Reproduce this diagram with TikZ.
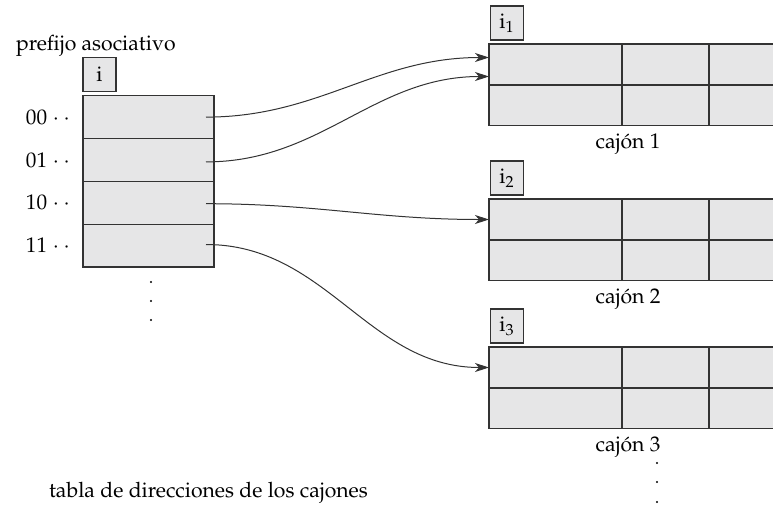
\documentclass[tikz,border=0pt]{standalone}
\usepackage[T1]{fontenc}
\usepackage{mathpazo}
\usetikzlibrary{arrows.meta, positioning, calc}
\definecolor{CellGray}{HTML}{E6E6E7}
\definecolor{LineGray}{HTML}{333333}

\tikzset{
  cell/.style={draw=LineGray, line width=0.6pt, inner sep=0pt, outer sep=0pt, anchor=north west},
  tagbox/.style={draw=LineGray, fill=CellGray, line width=0.6pt, inner sep=0pt, outer sep=0pt,
                 minimum width=16.5pt, minimum height=17pt},
  pointer/.style={draw=LineGray, line width=0.5pt, -{Stealth[length=7pt, width=4.5pt, inset=2pt]}}
}

\begin{document}
\begin{tikzpicture}[x=0.5pt, y=-0.5pt, font=\fontsize{10.6}{12.7}\selectfont]
  \useasboundingbox (0,0) rectangle (773,505);

  % 1. Address table (hash prefix rows)
  \node[anchor=base west] (prefix) at (9,50) {prefijo asociativo};
  \fill[CellGray] (83,95.7) rectangle (214,266.9);
  \foreach \bits [count=\n] in {00,01,10,11} {
    \node[cell, minimum width=65.5pt, minimum height=21.4pt] (r\bits) at (83,{95.7+42.8*(\n-1)}) {};
    \node[left=3pt of r\bits] (l\bits) {\bits\ $\cdot\:\cdot$};
  }
  \node[tagbox, anchor=south west] (t0) at ($(r00.north west)+(0,-4.5)$) {i};
  \foreach \yy in {282,301,320}
    \fill (151,\yy) circle (0.6pt);
  \node[anchor=base west] (table) at (42,497) {tabla de direcciones de los cajones};

  % 2. Buckets
  \foreach \k/\top in {1/44, 2/199, 3/347} {
    \pgfmathsetmacro{\low}{\top+40.5}
    \fill[CellGray] (489,\top) rectangle (776,\top+81);
    \node[cell, minimum width=66.5pt, minimum height=20.5pt] (b\k-1-1) at (489,\top) {};
    \node[cell, minimum width=43.5pt, minimum height=20.5pt] (b\k-1-2) at (622,\top) {};
    \node[cell, minimum width=33.5pt, minimum height=20.5pt] (b\k-1-3) at (709,\top) {};
    \node[cell, minimum width=66.5pt, minimum height=20.5pt] (b\k-2-1) at (489,\low) {};
    \node[cell, minimum width=43.5pt, minimum height=20.5pt] (b\k-2-2) at (622,\low) {};
    \node[cell, minimum width=33.5pt, minimum height=20.5pt] (b\k-2-3) at (709,\low) {};
    \node[tagbox, anchor=south west] (t\k) at ($(b\k-1-1.north west)+(1.5,-4)$) {i$_\k$};
    \node[anchor=base] (c\k) at ($(b\k-2-1.south west)+(139,23)$) {caj\'on \k};
  }
  \foreach \yy in {463,482,502}
    \fill (657,\yy) circle (0.6pt);

  % 3. Pointers from the table to the buckets
  \draw[pointer] ($(r00.east)+(-8,0)$) to[out=0, in=180] ($(b1-1-1.west)+(0,-7)$);
  \draw[pointer] ($(r01.east)+(-8,2)$) to[out=0, in=180] ($(b1-1-1.west)+(0,12)$);
  \draw[pointer] ($(r10.east)+(-8,1)$) to[out=0, in=180] (b2-1-1.west);
  \draw[pointer] ($(r11.east)+(-8,-1)$) to[out=0, in=180] (b3-1-1.west);
\end{tikzpicture}
\end{document}
